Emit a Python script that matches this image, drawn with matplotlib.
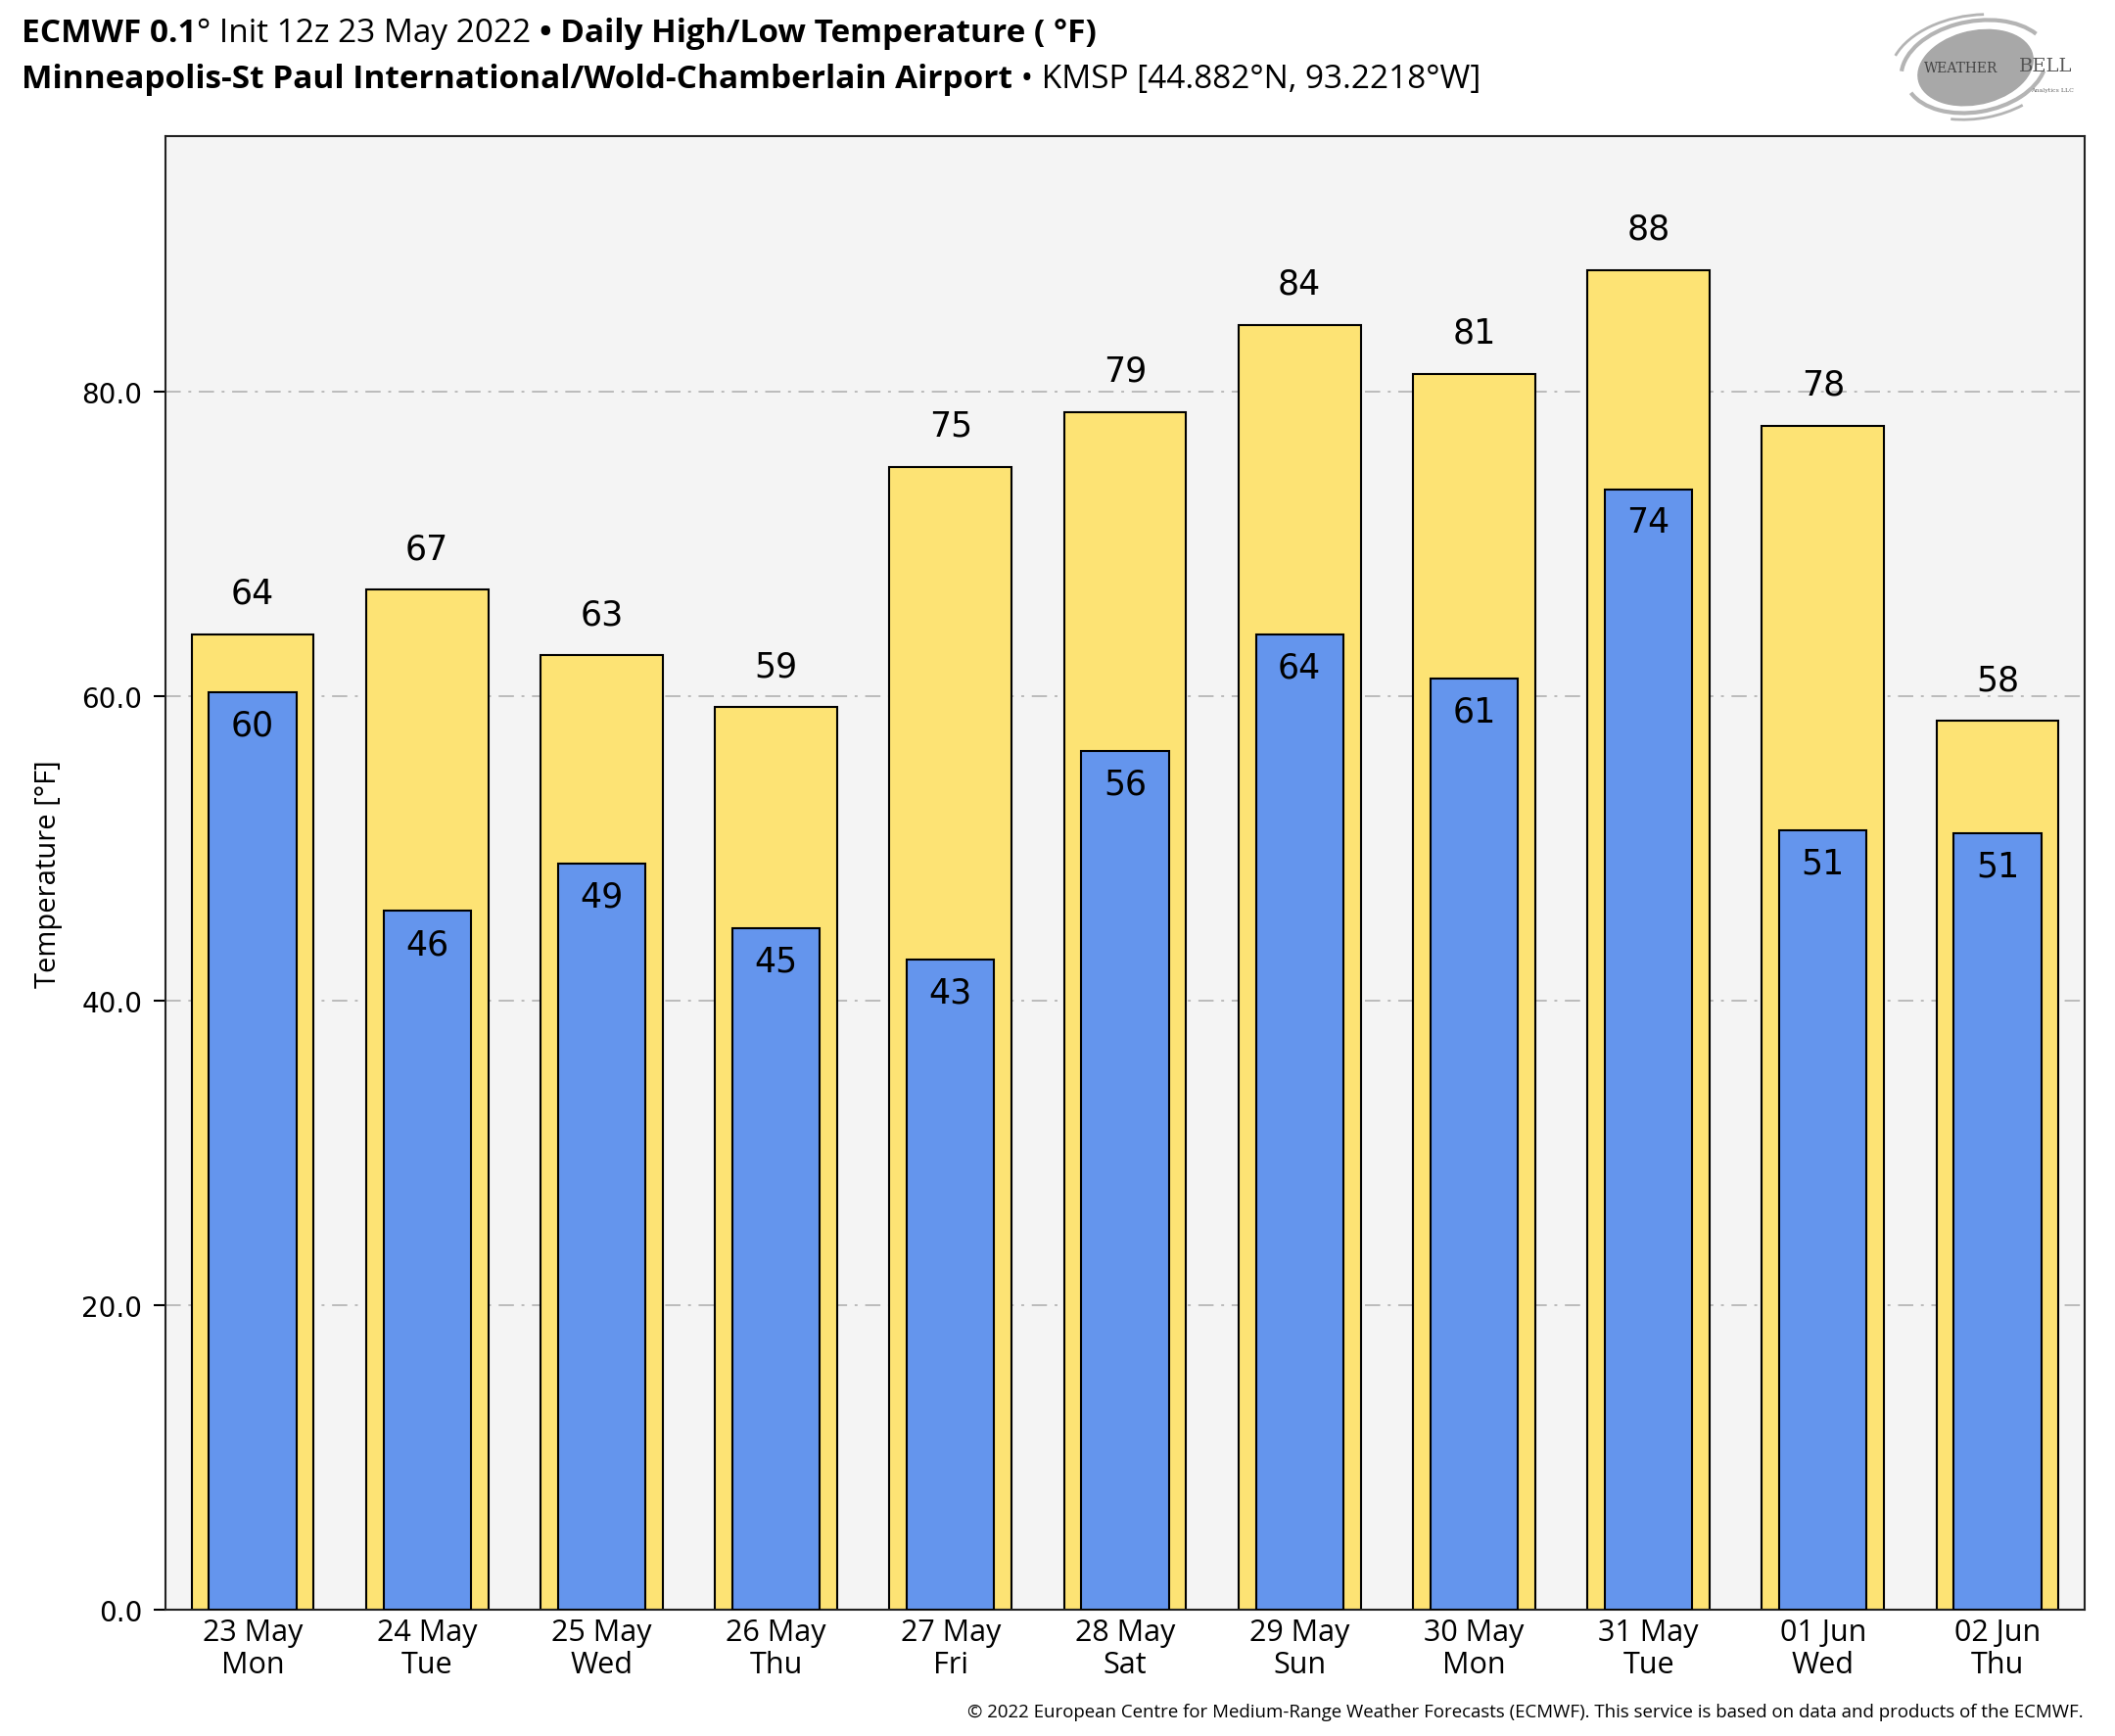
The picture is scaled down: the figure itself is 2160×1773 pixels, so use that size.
import numpy as np
import matplotlib
matplotlib.use("Agg")
import matplotlib.pyplot as plt
from matplotlib.patches import Ellipse, Arc

# --- data ---
dates = ["23 May", "24 May", "25 May", "26 May", "27 May", "28 May",
         "29 May", "30 May", "31 May", "01 Jun", "02 Jun"]
days = ["Mon", "Tue", "Wed", "Thu", "Fri", "Sat", "Sun", "Mon", "Tue", "Wed", "Thu"]
highs = [64.1, 67.0, 62.7, 59.3, 75.1, 78.7, 84.4, 81.2, 88.0, 77.8, 58.4]
lows = [60.3, 45.9, 49.0, 44.8, 42.7, 56.4, 64.1, 61.2, 73.6, 51.2, 51.0]

YELLOW = "#fde374"
BLUE = "#6495ed"
BG = "#f4f4f4"
FONT = "Open Sans"

fig = plt.figure(figsize=(21.6, 17.74), dpi=100)
ax = fig.add_axes([0.0782, 0.0727, 0.9075, 0.8483])
ax.set_facecolor(BG)

x = np.arange(len(dates))
ax.bar(x, highs, width=0.7, color=YELLOW, edgecolor="black", linewidth=1.5, zorder=2)
ax.bar(x, lows, width=0.5, color=BLUE, edgecolor="black", linewidth=1.5, zorder=3)

for xi, h, l in zip(x, highs, lows):
    ax.annotate(f"{round(h):d}", (xi, h), xytext=(0, 18), textcoords="offset points",
                ha="center", va="bottom", fontsize=25, family="DejaVu Sans", zorder=4)
    ax.annotate(f"{round(l):d}", (xi, l), xytext=(0, -12), textcoords="offset points",
                ha="center", va="top", fontsize=25, family="DejaVu Sans", zorder=4)

ax.set_xlim(-0.5, 10.5)
ax.set_ylim(0, max(highs) * 1.1)
ax.set_yticks([0, 20, 40, 60, 80])
ax.set_yticklabels([f"{v:.1f}" for v in [0, 20, 40, 60, 80]], fontsize=20, family="DejaVu Sans")
ax.set_xticks(x)
ax.set_xticklabels([f"{d}\n{w}" for d, w in zip(dates, days)], fontsize=22, family=FONT,
                   linespacing=1.1)
ax.tick_params(axis="x", length=0, pad=6)
ax.tick_params(axis="y", length=9, width=1.5, pad=8)
ax.yaxis.grid(True, linestyle=(0, (8, 4, 1.5, 4)), color="#bbbbbb", linewidth=1.4, zorder=0)
ax.set_axisbelow(True)
for sp in ax.spines.values():
    sp.set_linewidth(1.5)
    sp.set_color("#222222")
ax.set_ylabel("Temperature [°F]", fontsize=21, family=FONT, labelpad=14)

# --- title lines built from pieces ---
renderer = fig.canvas.get_renderer()
W = fig.get_figwidth() * fig.dpi


def put_line(parts, x0, y, size):
    xx = x0
    for s, wt in parts:
        t = fig.text(xx, y, s, fontsize=size, fontweight=wt, family=FONT, va="baseline")
        xx = t.get_window_extent(renderer).x1 / W


put_line([("ECMWF 0.1", "bold"), ("° Init 12z 23 May 2022 ", "normal"),
          ("• Daily High/Low Temperature ( °F)", "bold")], 0.0102, 0.9755, 24)
put_line([("Minneapolis-St Paul International/Wold-Chamberlain Airport", "bold"),
          (" • KMSP [44.882°N, 93.2218°W]", "normal")], 0.0102, 0.9495, 24)

fig.text(0.985, 0.0115, "© 2022 European Centre for Medium-Range Weather Forecasts (ECMWF). "
         "This service is based on data and products of the ECMWF.",
         ha="right", va="baseline", fontsize=13.4, family=FONT)

# --- logo (rough) ---
lax = fig.add_axes([0.895, 0.929, 0.093, 0.063])
lax.set_xlim(0, 1)
lax.set_ylim(0, 1)
lax.axis("off")
lax.add_patch(Ellipse((0.42, 0.5), 0.55, 0.72, angle=-25, color="#a8a8a8"))
for (w, h, t1, t2, lw) in [(0.72, 0.9, 70, 210, 3), (0.68, 0.86, 240, 380, 3),
                           (0.84, 1.0, 110, 190, 2), (0.8, 0.98, 280, 330, 2)]:
    lax.add_patch(Arc((0.42, 0.5), w, h, angle=-25, theta1=t1, theta2=t2,
                      color="#b4b4b4", linewidth=lw))
lax.text(0.16, 0.5, "WEATHER", fontsize=10, family="DejaVu Serif", color="#444444",
         va="center", ha="left")
lax.text(0.64, 0.52, "BELL", fontsize=14, family="DejaVu Serif", color="#555555",
         va="center", ha="left")
lax.text(0.7, 0.3, "Analytics LLC", fontsize=4.5, family="DejaVu Serif", color="#666666",
         va="center", ha="left")

fig.savefig("out.png", dpi=100, facecolor="white")
